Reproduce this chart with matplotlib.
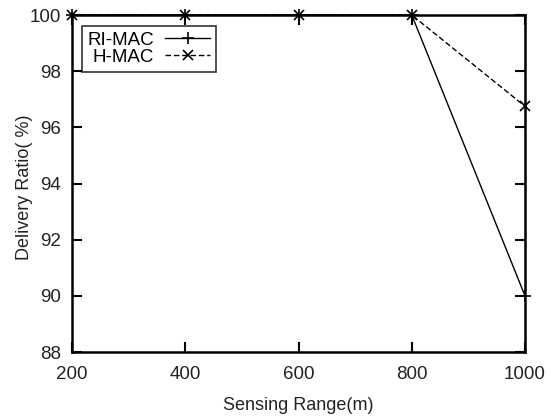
import matplotlib.pyplot as plt

plt.rcParams["font.family"] = ["Liberation Sans", "DejaVu Sans"]

sensing_range = [200, 400, 600, 800, 1000]
ri_mac = [100, 100, 100, 100, 90]
h_mac = [100, 100, 100, 100, 96.75]

fig = plt.figure(figsize=(5.51, 4.19), dpi=100)
ax = fig.add_axes([0.1307, 0.1599, 0.8221, 0.8043])

ax.plot(sensing_range, ri_mac, color="black", linestyle="-", linewidth=1,
        marker="+", markersize=9, markeredgewidth=1.2, label="RI-MAC",
        clip_on=False, zorder=3)
ax.plot(sensing_range, h_mac, color="black", linestyle=(0, (4, 2)), linewidth=1,
        marker="x", markersize=7, markeredgewidth=1.2, label="H-MAC",
        clip_on=False, zorder=3)

ax.set_xlim(200, 1000)
ax.set_ylim(88, 100)
ax.set_xticks(sensing_range)
ax.set_yticks([88, 90, 92, 94, 96, 98, 100])
ax.tick_params(direction="in", length=7, width=1.5, top=True, right=True,
               labelsize=13.5, labelcolor="#222222")
ax.tick_params(axis="x", pad=10)
ax.tick_params(axis="y", pad=8)
for s in ax.spines.values():
    s.set_linewidth(1.8)

ax.set_xlabel("Sensing Range(m)", fontsize=13, color="#222222")
ax.xaxis.set_label_coords(0.5, -0.135)
ax.set_ylabel("Delivery Ratio( %)", fontsize=13, color="#222222")
ax.yaxis.set_label_coords(-0.087, 0.49)

leg = ax.legend(loc="upper left", bbox_to_anchor=(0.022, 0.967), fontsize=13.5,
                frameon=True, fancybox=False, edgecolor="black",
                handlelength=2.4, handletextpad=0.6, borderpad=0.3,
                labelspacing=0.0, markerfirst=False, borderaxespad=0)
leg.get_frame().set_linewidth(1.2)

fig.savefig("out.png", dpi=100)
